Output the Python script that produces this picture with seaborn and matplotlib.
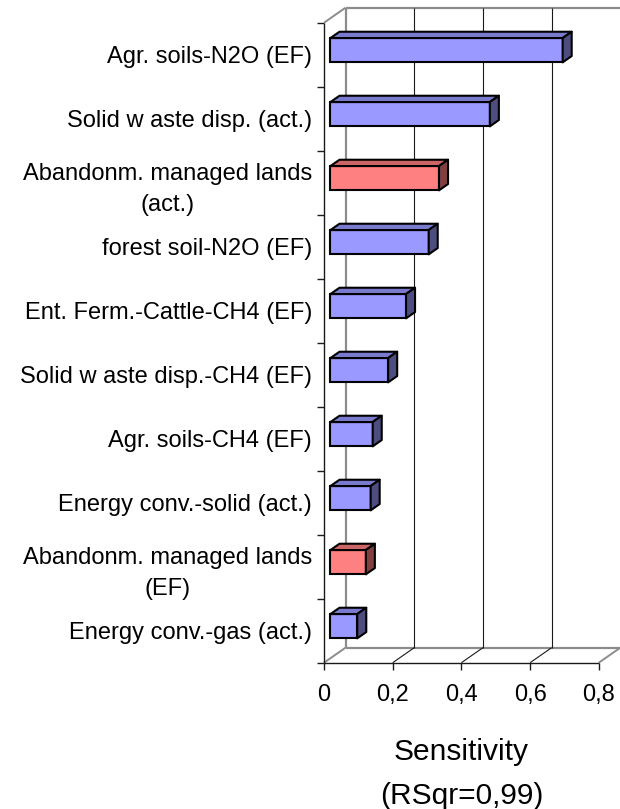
import matplotlib
matplotlib.use("Agg")
import matplotlib.pyplot as plt
import numpy as np
import pandas as pd
import seaborn as sns
from matplotlib.colors import to_rgb
from matplotlib.patches import Polygon

# ---- data -------------------------------------------------------------
drivers = [
    "Agr. soils-N2O (EF)",
    "Solid w aste disp. (act.)",
    "Abandonm. managed lands\n(act.)",
    "forest soil-N2O (EF)",
    "Ent. Ferm.-Cattle-CH4 (EF)",
    "Solid w aste disp.-CH4 (EF)",
    "Agr. soils-CH4 (EF)",
    "Energy conv.-solid (act.)",
    "Abandonm. managed lands\n(EF)",
    "Energy conv.-gas (act.)",
]
sensitivity = [0.676, 0.464, 0.316, 0.286, 0.220, 0.168, 0.123, 0.117, 0.103, 0.078]
source_kind = ["emission", "emission", "land use", "emission", "emission",
               "emission", "emission", "emission", "land use", "emission"]
kind_colors = {"emission": "#9999FF", "land use": "#FF8080"}

x_ticks = [0, 0.2, 0.4, 0.6, 0.8]
x_tick_labels = ["0", "0,2", "0,4", "0,6", "0,8"]
axis_title = "Sensitivity\n(RSqr=0,99)"

df = pd.DataFrame({"driver": drivers, "sensitivity": sensitivity, "kind": source_kind})

# ---- style ------------------------------------------------------------
sns.set_theme(style="white")
plt.rcParams["font.family"] = ["Liberation Sans", "DejaVu Sans"]

W, H, DPI = 620, 809, 100
fig = plt.figure(figsize=(W / DPI, H / DPI), dpi=DPI)

# pixel geometry of the front plane of the pseudo-3D box
x0_px, y_top_px, y_bot_px = 324.0, 22.7, 662.7
px_per_unit = 343.5
px_per_cat = 64.0
depth_dx_px, depth_dy_px = 21.5, 15.0
DX = depth_dx_px / px_per_unit          # depth offset in data units (x)
DY = -depth_dy_px / px_per_cat          # depth offset in data units (y, axis inverted)
x_max = (W - x0_px) / px_per_unit

ax = fig.add_axes([x0_px / W, (H - y_bot_px) / H,
                   (W - x0_px) / W, (y_bot_px - (y_top_px - depth_dy_px)) / H])

sns.barplot(data=df, x="sensitivity", y="driver", hue="kind", palette=kind_colors,
            order=drivers, dodge=False, width=0.38, orient="h", errorbar=None,
            saturation=1, edgecolor="black", linewidth=1.5, legend=False, ax=ax,
            zorder=3)

n = len(drivers)
y_front_top, y_front_bot = -0.5, n - 0.5
ax.set_xlim(0, x_max)
ax.set_ylim(y_front_bot, y_front_top + DY)
for s in ax.spines.values():
    s.set_visible(False)
ax.grid(False)

gray = "#8c8c8c"
dark = "#1a1a1a"
line_kw = dict(clip_on=False, solid_capstyle="butt")

# back wall and floor of the box
ax.plot([DX, x_max], [y_front_top + DY] * 2, color=gray, lw=1.6, **line_kw)
ax.plot([DX, x_max], [y_front_bot + DY] * 2, color=gray, lw=1.6, **line_kw)
ax.plot([DX, DX], [y_front_top + DY, y_front_bot + DY], color=gray, lw=1.6, **line_kw)
ax.plot([0, DX], [y_front_top, y_front_top + DY], color=gray, lw=1.4, **line_kw)
for t in x_ticks:
    edge = t in (x_ticks[0], x_ticks[-1])
    c, lw = (gray, 1.4) if edge else (dark, 0.8)
    ax.plot([t, t + DX], [y_front_bot, y_front_bot + DY], color=c, lw=lw, **line_kw)
    if not edge:
        ax.plot([t + DX] * 2, [y_front_top + DY, y_front_bot + DY], color=dark, lw=0.8, **line_kw)

# front axes
ax.plot([0, 0], [y_front_top, y_front_bot], color=dark, lw=1.0, **line_kw)
ax.plot([0, x_ticks[-1]], [y_front_bot] * 2, color=dark, lw=1.0, **line_kw)

# ---- 3D bars: shift front faces into the box, add top and side faces --
d1, d2 = 0.30, 0.72
dd = d2 - d1
for bar in list(ax.patches):
    x, y, w, h = bar.get_x(), bar.get_y(), bar.get_width(), bar.get_height()
    x += d1 * DX
    y += d1 * DY
    bar.set_x(x)
    bar.set_y(y)
    base = np.array(to_rgb(bar.get_facecolor()))
    top = Polygon([(x, y), (x + w, y), (x + w + dd * DX, y + dd * DY), (x + dd * DX, y + dd * DY)],
                  closed=True, facecolor=base * 0.8, edgecolor="black", lw=1.5,
                  joinstyle="round", zorder=3)
    side = Polygon([(x + w, y), (x + w, y + h), (x + w + dd * DX, y + h + dd * DY),
                    (x + w + dd * DX, y + dd * DY)],
                   closed=True, facecolor=base * 0.5, edgecolor="black", lw=1.5,
                   joinstyle="round", zorder=3)
    ax.add_patch(top)
    ax.add_patch(side)

# ---- ticks and labels ---------------------------------------------------
ax.set_xticks(x_ticks, x_tick_labels)
ax.tick_params(axis="x", bottom=True, length=5, width=1, color=dark, direction="out",
               labelsize=17, pad=10.5, labelcolor="black")
ax.set_yticks(range(n), drivers)
ax.set_yticks(np.arange(n + 1) - 0.5, minor=True)
ax.tick_params(axis="y", which="major", left=True, length=0, pad=8.5,
               labelsize=17, labelcolor="black")
ax.tick_params(axis="y", which="minor", left=True, length=5, width=1, color=dark,
               direction="out")
for lbl in ax.get_yticklabels():
    lbl.set_multialignment("center")
    lbl.set_linespacing(1.5)
ax.set_xlabel("")
ax.set_ylabel("")

fig.text((x0_px + 0.4 * px_per_unit) / W, 1 - 738 / H, axis_title,
         ha="center", va="top", fontsize=21.5, linespacing=1.74, color="black")

fig.savefig("out.png", dpi=DPI)
